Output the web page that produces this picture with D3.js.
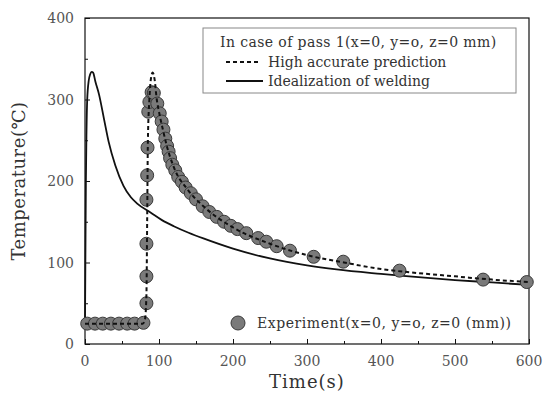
<!DOCTYPE html>
<html>
<head>
<meta charset="utf-8">
<script src="https://cdn.jsdelivr.net/npm/d3@7"></script>
<style>
  body { margin: 0; background: #fff; }
  text { font-family: "DejaVu Serif", serif; fill: #333; }
</style>
</head>
<body>
<div id="chart"></div>
<script>
// Experiment points (time s, temperature C)
const expTime = [3, 13.5, 24, 35, 46, 57, 67, 79, 83, 83, 83, 83, 84, 84.5, 85.5, 87, 90, 93, 97.7, 101, 103.6, 106, 108.5, 111, 113, 115, 118, 122, 126, 131, 136, 143, 150, 159, 168, 178, 188, 197, 206, 218, 234, 245, 259, 277, 309, 349, 425, 538, 597];
const expTemp = [25, 25, 25, 25, 25, 25, 25, 26, 50, 83, 123, 177, 207, 241, 285, 297, 309, 308, 295, 283, 273, 263, 252, 243, 236, 228, 220, 213, 205, 199, 192, 185, 177.5, 169, 162, 156, 150, 145, 141, 136, 130, 125.5, 120, 114.5, 107, 101, 90, 79, 76];

// High accurate prediction (dashed)
const predTime = [0, 78, 81, 83, 84, 85, 87, 89, 91.5, 94, 97, 100, 105, 110, 120, 140, 160, 200, 250, 300, 350, 400, 450, 500, 550, 600];
const predTemp = [25, 25, 30, 60, 150, 250, 300, 325, 333, 325, 300, 285, 264, 245, 217, 188, 169, 143, 123, 109, 100, 92, 87, 83, 79, 76];

// Idealization of welding (solid)
const idealTime = [0, 0.5, 1.2, 2, 3, 5, 7, 9, 11, 14, 19, 25.7, 32, 41, 52, 62, 71, 89, 104, 120, 140, 160, 200, 250, 300, 340, 400, 430, 500, 550, 600];
const idealTemp = [25, 100, 200, 260, 300, 323, 331, 334, 333, 322, 306, 276, 248, 219, 194, 180, 172, 161, 152, 144.5, 136.5, 129.5, 117, 105, 96.5, 91.5, 86, 83.5, 78.5, 75.5, 72.5];

const xTicks = [0, 100, 200, 300, 400, 500, 600];
const yTicks = [0, 100, 200, 300, 400];

const W = 543, H = 403;
const svg = d3.select("#chart").append("svg")
  .attr("width", W).attr("height", H);

const x = d3.scaleLinear().domain([0, 600]).range([85, 529]);
const y = d3.scaleLinear().domain([0, 400]).range([344, 18]);

// plot frame
svg.append("rect")
  .attr("x", x(0)).attr("y", y(400))
  .attr("width", x(600) - x(0)).attr("height", y(0) - y(400))
  .attr("fill", "none").attr("stroke", "#111").attr("stroke-width", 1.2);

// bottom ticks (inward)
const xAxis = svg.append("g").attr("transform", "translate(0," + y(0) + ")");
xAxis.call(d3.axisBottom(x).tickValues(d3.range(0, 601, 50)).tickSize(0).tickFormat(""));
xAxis.select(".domain").remove();
xAxis.selectAll(".tick line")
  .attr("y2", d => d % 100 === 0 ? -5 : -3)
  .attr("stroke", "#111");
svg.append("g").selectAll("text").data(xTicks).enter().append("text")
  .attr("x", d => x(d)).attr("y", 366)
  .attr("text-anchor", "middle")
  .style("font-size", "14px").style("fill", "#555")
  .text(d => d);

// left ticks (inward)
const yAxis = svg.append("g").attr("transform", "translate(" + x(0) + ",0)");
yAxis.call(d3.axisLeft(y).tickValues(d3.range(0, 401, 50)).tickSize(0).tickFormat(""));
yAxis.select(".domain").remove();
yAxis.selectAll(".tick line")
  .attr("x2", d => d % 100 === 0 ? 5 : 3)
  .attr("stroke", "#111");
svg.append("g").selectAll("text").data(yTicks).enter().append("text")
  .attr("x", 74).attr("y", d => y(d) + 5)
  .attr("text-anchor", "end")
  .style("font-size", "14px").style("fill", "#555")
  .text(d => d);

// axis titles
svg.append("text")
  .attr("x", (x(0) + x(600)) / 2).attr("y", 388)
  .attr("text-anchor", "middle")
  .style("font-size", "18px").style("letter-spacing", "1px")
  .text("Time(s)");
svg.append("text")
  .attr("transform", "translate(25," + (y(0) + y(400)) / 2 + ") rotate(-90)")
  .attr("text-anchor", "middle")
  .style("font-size", "18px").style("letter-spacing", "0.5px")
  .text("Temperature(℃)");

// solid line
const line = d3.line().curve(d3.curveMonotoneX);
svg.append("path")
  .attr("d", line(idealTime.map((t, i) => [x(t), y(idealTemp[i])])))
  .attr("fill", "none").attr("stroke", "#111").attr("stroke-width", 1.8);

// experiment dots
svg.append("g").selectAll("circle")
  .data(expTime.map((t, i) => [t, expTemp[i]]))
  .enter().append("circle")
  .attr("cx", d => x(d[0])).attr("cy", d => y(d[1]))
  .attr("r", 6.5)
  .attr("fill", "#7a7a7a").attr("stroke", "#3a3a3a").attr("stroke-width", 1);

// dashed prediction line on top
svg.append("path")
  .attr("d", line(predTime.map((t, i) => [x(t), y(predTemp[i])])))
  .attr("fill", "none").attr("stroke", "#111").attr("stroke-width", 2)
  .attr("stroke-dasharray", "4,3");

// legend box
const lg = svg.append("g");
lg.append("rect")
  .attr("x", 203).attr("y", 28).attr("width", 313).attr("height", 65)
  .attr("fill", "#fff").attr("stroke", "#888").attr("stroke-width", 1);
lg.append("text").attr("x", 220).attr("y", 47).style("font-size", "14px")
  .style("letter-spacing", "0.4px")
  .text("In case of pass 1(x=0, y=o, z=0 mm)");
lg.append("line").attr("x1", 226).attr("x2", 261).attr("y1", 62).attr("y2", 62)
  .attr("stroke", "#111").attr("stroke-width", 2).attr("stroke-dasharray", "4,3");
lg.append("text").attr("x", 268).attr("y", 67).style("font-size", "14px")
  .text("High accurate prediction");
lg.append("line").attr("x1", 226).attr("x2", 263).attr("y1", 81).attr("y2", 81)
  .attr("stroke", "#111").attr("stroke-width", 2);
lg.append("text").attr("x", 268).attr("y", 86).style("font-size", "14px")
  .text("Idealization of welding");

// experiment legend
svg.append("circle").attr("cx", 238).attr("cy", 323).attr("r", 7)
  .attr("fill", "#7a7a7a").attr("stroke", "#3a3a3a");
svg.append("text").attr("x", 257).attr("y", 328).style("font-size", "14px")
  .style("letter-spacing", "0.55px")
  .text("Experiment(x=0, y=o, z=0 (mm))");
</script>
</body>
</html>
